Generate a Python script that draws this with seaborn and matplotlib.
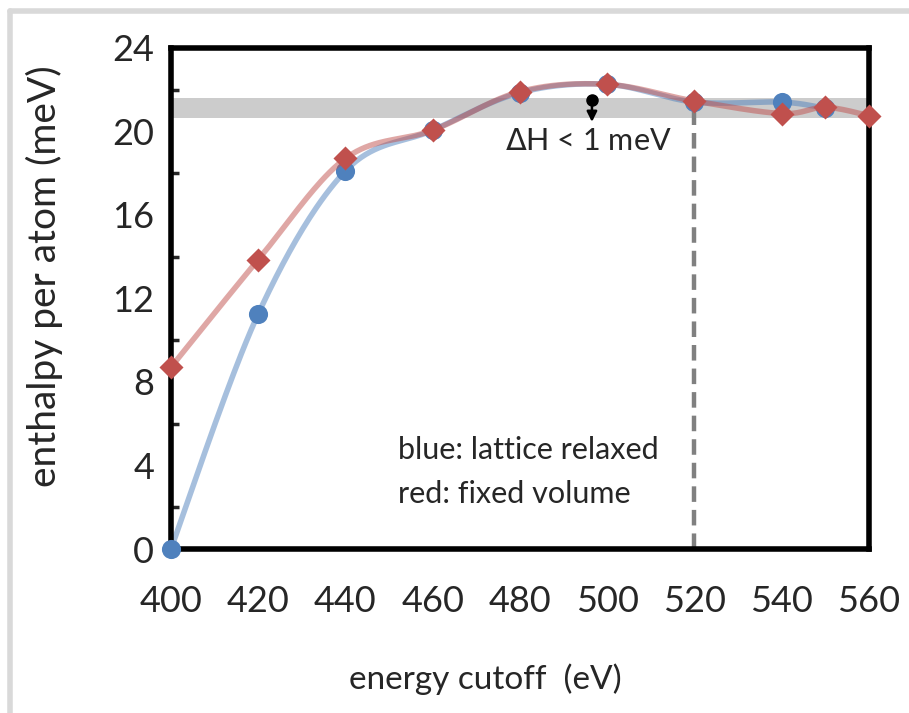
import numpy as np
import pandas as pd
import seaborn as sns
import matplotlib.pyplot as plt
from matplotlib.lines import Line2D

# ========== DATA ==========
cutoff_blue = [400, 420, 440, 460, 480, 500, 520, 540, 550]
enthalpy_blue = [0.0, 11.25, 18.1, 20.05, 21.85, 22.25, 21.4, 21.4, 21.1]

cutoff_red = [400, 420, 440, 460, 480, 500, 520, 540, 550, 560]
enthalpy_red = [8.7, 13.85, 18.7, 20.05, 21.9, 22.25, 21.45, 20.85, 21.15, 20.75]

band_low, band_high = 20.65, 21.6
converged_cutoff = 520
x_ticks = [400, 420, 440, 460, 480, 500, 520, 540, 560]
y_ticks = [0, 4, 8, 12, 16, 20, 24]


# ========== SMOOTH LINE (excel style bezier) ==========
def smooth_line(xs, ys, n=40):
    # work in roughly screen units so the curve bends like excel's
    px = np.asarray(xs, float) / 20 * 87.25
    py = np.asarray(ys, float) / 4 * 83.5
    pts = np.column_stack([px, py])
    pts = np.vstack([pts[0], pts, pts[-1]])
    out = []
    t = np.linspace(0, 1, n)[:, None]
    for i in range(1, len(pts) - 2):
        p0, p1, p2, p3 = pts[i - 1], pts[i], pts[i + 1], pts[i + 2]
        c1 = p1 + (p2 - p0) / 6
        c2 = p2 - (p3 - p1) / 6
        seg = ((1 - t) ** 3) * p1 + 3 * ((1 - t) ** 2) * t * c1 + 3 * (1 - t) * t ** 2 * c2 + t ** 3 * p2
        out.append(seg)
    out = np.vstack(out)
    return pd.DataFrame({"x": out[:, 0] / 87.25 * 20, "y": out[:, 1] / 83.5 * 4})


sns.set_style("white")
plt.rcParams["font.family"] = ["Lato", "DejaVu Sans"]
plt.rcParams["mathtext.fontset"] = "dejavusans"

fig = plt.figure(figsize=(9.09, 7.13), dpi=100)
ax = fig.add_axes([0.188, 0.230, 0.768, 0.703])

blue = "#4F81BD"
red = "#C0504D"

ax.axhspan(band_low, band_high, color="#CCCCCC", zorder=0, lw=0)
ax.plot([converged_cutoff, converged_cutoff], [0, enthalpy_blue[6]], ls=(0, (3.5, 1.8)),
        color="#808080", lw=3.2, zorder=1)

sns.lineplot(data=smooth_line(cutoff_blue, enthalpy_blue), x="x", y="y", sort=False,
             estimator=None, color=blue, alpha=0.5, lw=4, ax=ax, zorder=2)
sns.scatterplot(x=cutoff_blue, y=enthalpy_blue, color=blue, marker="o", s=190,
                linewidth=0, ax=ax, zorder=3, clip_on=False)
sns.lineplot(data=smooth_line(cutoff_red, enthalpy_red), x="x", y="y", sort=False,
             estimator=None, color=red, alpha=0.5, lw=4, ax=ax, zorder=4)
sns.scatterplot(x=cutoff_red, y=enthalpy_red, color=red, marker="D", s=150,
                linewidth=0, ax=ax, zorder=5, clip_on=False)

# delta H arrow
ax.plot([496.5], [21.5], marker="o", color="black", ms=8, zorder=6)
ax.annotate("", xy=(496.5, 20.45), xytext=(496.5, 21.5),
            arrowprops=dict(arrowstyle="-|>", color="black", lw=1.8, mutation_scale=15,
                            shrinkA=0, shrinkB=0), zorder=6)
ax.text(495.6, 19.55, r"$\mathit{\Delta}$H < 1 meV", fontsize=22, ha="center", va="center")

ax.text(452, 4.75, "blue: lattice relaxed", fontsize=22, ha="left", va="center")
ax.text(452, 2.65, "red: fixed volume", fontsize=22, ha="left", va="center")

ax.set_xlim(400, 560)
ax.set_ylim(0, 24)
ax.set_xticks(x_ticks)
ax.set_yticks(y_ticks)
ax.set_yticks(np.arange(2, 24, 4), minor=True)
ax.tick_params(axis="both", which="major", direction="in", length=9, width=2.5,
               labelsize=26, color="black")
ax.tick_params(axis="y", which="minor", direction="in", length=6, width=2.5, left=True)
ax.tick_params(axis="x", pad=26)
ax.tick_params(axis="y", pad=12)
for s in ax.spines.values():
    s.set_linewidth(4)
    s.set_color("black")

ax.set_xlabel("energy cutoff  (eV)", fontsize=24)
ax.set_ylabel("enthalpy per atom (meV)", fontsize=28)
ax.xaxis.set_label_coords(0.45, -0.228)
ax.yaxis.set_label_coords(-0.155, 0.545)

# light grey frame round the picture
fig.add_artist(Line2D([0.011, 0.011], [0.0, 0.984], color="#D9D9D9", lw=4, transform=fig.transFigure))
fig.add_artist(Line2D([0.011, 1.0], [0.984, 0.984], color="#D9D9D9", lw=4, transform=fig.transFigure))

plt.savefig("out.png", dpi=100)
